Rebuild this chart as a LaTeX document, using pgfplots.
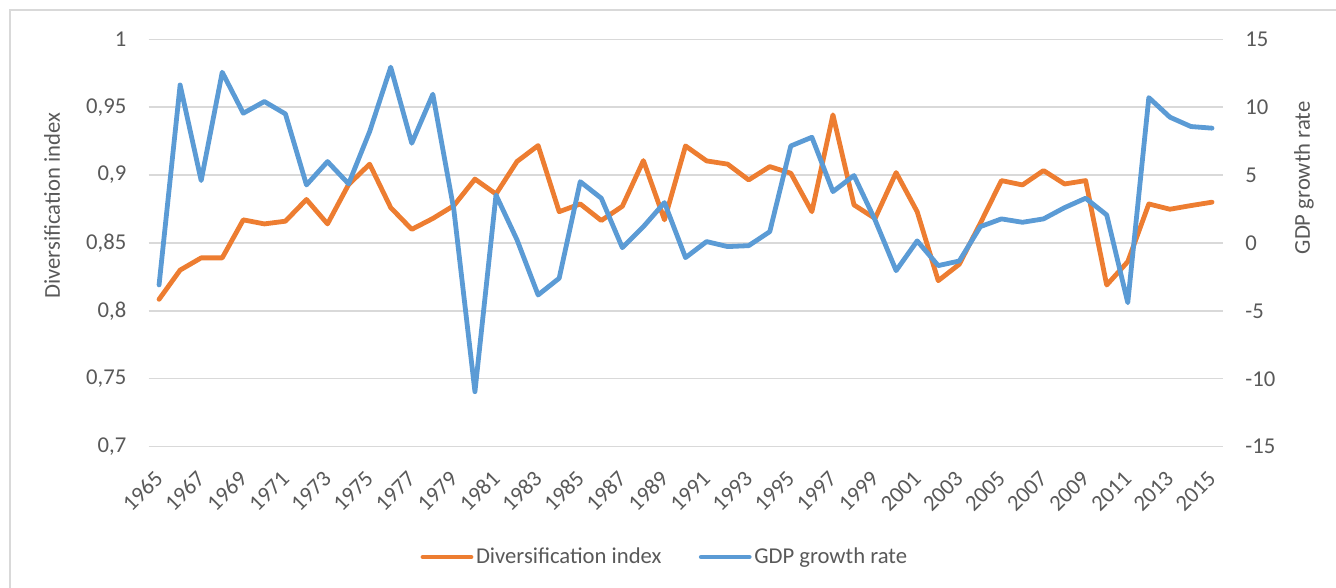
\documentclass[border=0pt]{standalone}
\usepackage{pgfplots}
\pgfplotsset{compat=1.18}
\usepackage{fontspec}
\setmainfont{Carlito}

\definecolor{divorange}{HTML}{ED7D31}
\definecolor{gdpblue}{HTML}{5B9BD5}
\definecolor{gridgray}{HTML}{D9D9D9}
\definecolor{txtgray}{HTML}{595959}

\pgfplotsset{
  common/.style={
    scale only axis, width=805.5pt, height=305.6pt,
    xmin=1964.5, xmax=2015.5,
    axis line style={draw=none},
    major tick length=0pt,
    tick label style={font=\fontsize{17}{20}\selectfont, text=txtgray, inner sep=0pt},
    label style={font=\fontsize{17}{20}\selectfont, text=txtgray},
    /pgf/number format/assume math mode=true,
    every axis plot/.append style={line width=3.6pt, line join=round, line cap=round},
  }
}

\begin{document}
\begin{tikzpicture}
% page = 1336 x 588 px at 0.75pt/px, axis box at (0,0)
\path[use as bounding box] (-111.4pt,-106.0pt) rectangle (890.6pt,335.0pt);
\draw[gridgray, line width=1pt] (-103.9pt,-115pt) -- (-103.9pt,327.5pt) -- (900pt,327.5pt);

\begin{axis}[common, name=main,
    ymin=0.7, ymax=1,
    ytick={0.7,0.75,0.8,0.85,0.9,0.95,1},
    yticklabel pos=left,
    yticklabel style={anchor=east, xshift=-16.5pt, /pgf/number format/.cd, use comma, fixed, precision=2},
    xtick={1965,1967,...,2015},
    % shifts first, so they act before the rotation
    xticklabel style={xshift=0pt, yshift=-21pt, rotate=45, anchor=east, /pgf/number format/1000 sep={}},
    ymajorgrids, grid style={gridgray, line width=1pt},
    ylabel={Diversification index},
    ylabel style={at={(axis description cs:-0.0899,0.591)}, anchor=center},
]
\addplot[divorange] coordinates {
(1965,0.8085) (1966,0.830) (1967,0.839) (1968,0.839) (1969,0.867) (1970,0.864)
(1971,0.866) (1972,0.882) (1973,0.864) (1974,0.893) (1975,0.908) (1976,0.876)
(1977,0.860) (1978,0.868) (1979,0.8775) (1980,0.897) (1981,0.886) (1982,0.910)
(1983,0.9217) (1984,0.873) (1985,0.8787) (1986,0.8665) (1987,0.877) (1988,0.9106)
(1989,0.867) (1990,0.9214) (1991,0.9104) (1992,0.908) (1993,0.8964) (1994,0.9062)
(1995,0.9013) (1996,0.873) (1997,0.9443) (1998,0.878) (1999,0.868) (2000,0.9018)
(2001,0.873) (2002,0.8222) (2003,0.8343) (2004,0.8645) (2005,0.8959) (2006,0.8927)
(2007,0.9033) (2008,0.8934) (2009,0.8959) (2010,0.819) (2011,0.8362) (2012,0.8787)
(2013,0.8748) (2014,0.8775) (2015,0.880)
};
\end{axis}

\begin{axis}[common,
    ymin=-15, ymax=15,
    ytick={-15,-10,-5,0,5,10,15},
    yticklabel pos=right,
    yticklabel style={anchor=west, xshift=16.9pt},
    xtick=\empty,
    ylabel={GDP growth rate},
    ylabel style={at={(axis description cs:1.0759,0.6596)}, anchor=center, rotate=0},
    legend style={at={(axis description cs:0.481,-0.2707)}, anchor=center,
      draw=none, fill=none, legend columns=2,
      font=\fontsize{17}{20}\selectfont, text=txtgray,
      /tikz/every even column/.append style={column sep=26pt}},
    legend image code/.code={\draw[#1, line cap=round] (0pt,0pt) -- (36pt,0pt);},
]
\addlegendimage{divorange, line width=3.6pt}
\addlegendentry{Diversification index}
\addplot[gdpblue] coordinates {
(1965,-3.09) (1966,11.63) (1967,4.59) (1968,12.57) (1969,9.55) (1970,10.41)
(1971,9.5) (1972,4.27) (1973,5.99) (1974,4.35) (1975,8.2) (1976,12.94)
(1977,7.34) (1978,10.95) (1979,2.43) (1980,-10.95) (1981,3.53) (1982,0.22)
(1983,-3.83) (1984,-2.6) (1985,4.51) (1986,3.29) (1987,-0.35) (1988,1.2)
(1989,2.97) (1990,-1.08) (1991,0.1) (1992,-0.27) (1993,-0.2) (1994,0.83)
(1995,7.14) (1996,7.78) (1997,3.78) (1998,4.96) (1999,1.69) (2000,-2.04)
(2001,0.15) (2002,-1.67) (2003,-1.33) (2004,1.2) (2005,1.77) (2006,1.52)
(2007,1.77) (2008,2.6) (2009,3.29) (2010,2.06) (2011,-4.4) (2012,10.7)
(2013,9.26) (2014,8.57) (2015,8.45)
};
\addlegendentry{GDP growth rate}
\end{axis}
\end{tikzpicture}
\end{document}
